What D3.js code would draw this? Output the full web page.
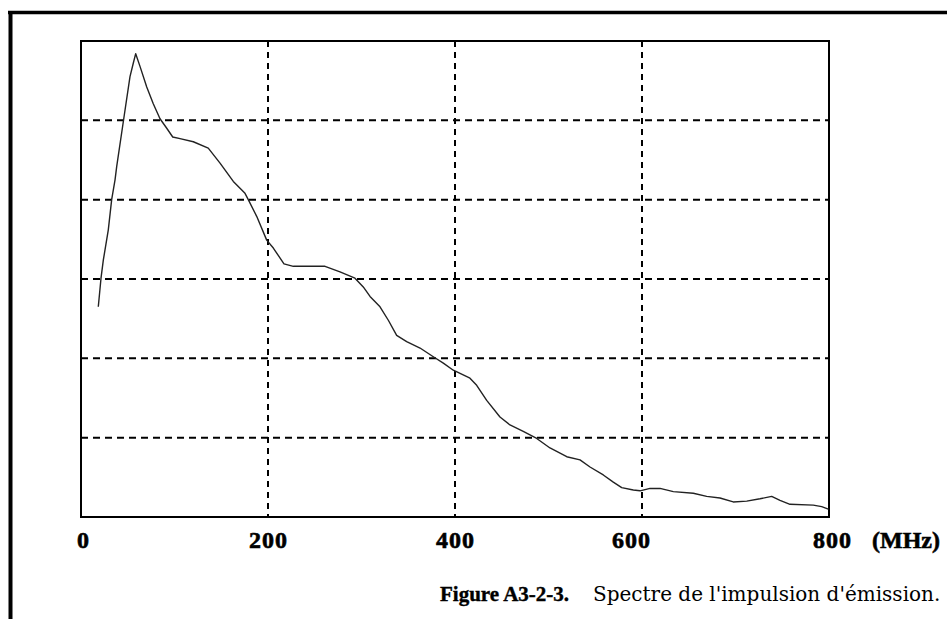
<!DOCTYPE html>
<html>
<head>
<meta charset="utf-8">
<script src="https://cdn.jsdelivr.net/npm/d3@7"></script>
<style>
  body { margin: 0; background: #fff; }
  svg { display: block; }
</style>
</head>
<body>
<svg id="chart" width="947" height="619"></svg>
<script>
// Emission pulse spectrum: frequency (MHz) and relative level (grid units x10)
const freqMHz = [18.5, 21.4, 23.9, 29.2, 32.8, 36.4, 38.2, 47.1, 52.4, 55.9,
  58.5, 63.1, 70.3, 77.3, 84.5, 91.7, 98.1, 105.9, 120.1, 136.1,
  148.7, 162.9, 175.4, 178.9, 187.9, 198.6, 205.7, 217.1, 227.1, 261.0,
  277.0, 293.0, 301.9, 309.1, 319.8, 328.7, 337.6, 348.3, 362.6, 376.8,
  387.5, 398.2, 416.0, 423.2, 433.9, 448.1, 458.8, 473.0, 487.4, 501.6,
  519.5, 533.7, 544.4, 558.6, 569.3, 578.3, 590.7, 597.9, 608.6, 619.3,
  633.5, 654.9, 669.2, 683.4, 697.6, 712.0, 726.2, 738.7, 747.6, 758.3,
  783.2, 792.2, 799.3];
const level = [26.5, 30.1, 32.4, 36.2, 40.0, 42.5, 44.2, 51.3, 55.5, 57.2,
  58.4, 56.8, 54.2, 52.1, 50.2, 49.0, 47.9, 47.7, 47.3, 46.5,
  44.6, 42.3, 40.8, 40.0, 37.9, 34.9, 33.9, 31.9, 31.6, 31.6,
  30.9, 30.1, 29.0, 27.8, 26.5, 24.8, 22.9, 22.1, 21.3, 20.2,
  19.4, 18.5, 17.5, 16.6, 14.7, 12.6, 11.6, 10.8, 9.9, 8.7,
  7.6, 7.2, 6.3, 5.3, 4.4, 3.7, 3.4, 3.3, 3.6, 3.6,
  3.2, 3.0, 2.6, 2.4, 1.9, 2.0, 2.3, 2.6, 2.1, 1.6,
  1.5, 1.3, 1.0];

const xTicks = [0, 200, 400, 600, 800];
const yGridLevels = [10, 20, 30, 40, 50];
const xDomain = [0, 800];
const yDomain = [0, 60];
const unitLabel = "(MHz)";
const captionTitle = "Figure A3-2-3.";
const captionText = "Spectre de l'impulsion d'émission.";

const svg = d3.select("#chart");
const plot = { left: 81, right: 829, top: 41, bottom: 517 };

const x = d3.scaleLinear().domain(xDomain).range([plot.left, plot.right]);
const y = d3.scaleLinear().domain(yDomain).range([plot.bottom, plot.top]);

// Page frame (heavy rule on the top and left)
svg.append("line")
  .attr("x1", 8).attr("x2", 947).attr("y1", 12.5).attr("y2", 12.5)
  .attr("stroke", "#000").attr("stroke-width", 3.5);
svg.append("line")
  .attr("x1", 10.5).attr("x2", 10.5).attr("y1", 11).attr("y2", 619)
  .attr("stroke", "#000").attr("stroke-width", 4);

// Dashed grid
svg.append("g")
  .selectAll("line")
  .data(yGridLevels)
  .join("line")
  .attr("x1", plot.left).attr("x2", plot.right)
  .attr("y1", d => y(d)).attr("y2", d => y(d))
  .attr("stroke", "#000").attr("stroke-width", 2)
  .attr("stroke-dasharray", "7,5");

svg.append("g")
  .selectAll("line")
  .data(xTicks.slice(1, -1))
  .join("line")
  .attr("x1", d => x(d)).attr("x2", d => x(d))
  .attr("y1", plot.top).attr("y2", plot.bottom)
  .attr("stroke", "#000").attr("stroke-width", 2)
  .attr("stroke-dasharray", "6,5");

// Plot border
svg.append("rect")
  .attr("x", plot.left).attr("y", plot.top)
  .attr("width", plot.right - plot.left).attr("height", plot.bottom - plot.top)
  .attr("fill", "none").attr("stroke", "#000").attr("stroke-width", 2);

// Spectrum curve
const pts = freqMHz.map((f, i) => [f, level[i]]);
svg.append("path")
  .datum(pts)
  .attr("fill", "none")
  .attr("stroke", "#222")
  .attr("stroke-width", 1.4)
  .attr("stroke-linejoin", "round")
  .attr("d", d3.line().x(d => x(d[0])).y(d => y(d[1])));

// Frequency axis labels
const labelShift = { 0: 2, 600: -11, 800: 3 };
const xAxis = d3.axisBottom(x).tickValues(xTicks).tickSize(0).tickPadding(0)
  .tickFormat(d3.format("d"));
const gx = svg.append("g")
  .attr("transform", `translate(0,${plot.bottom})`)
  .call(xAxis);
gx.select(".domain").remove();
gx.selectAll("text")
  .attr("dy", null)
  .attr("y", 30.5)
  .attr("dx", d => labelShift[d] || 0)
  .attr("fill", "#000")
  .attr("stroke", "#000")
  .attr("stroke-width", 0.6)
  .style("font-family", "'Liberation Serif', serif")
  .style("font-weight", "bold")
  .style("font-size", "24px")
  .style("letter-spacing", "1px");

svg.append("text")
  .attr("x", x(xDomain[1]) + 43)
  .attr("y", plot.bottom + 30.5)
  .attr("stroke", "#000")
  .attr("stroke-width", 0.6)
  .style("font-family", "'Liberation Serif', serif")
  .style("font-weight", "bold")
  .style("font-size", "24px")
  .text(unitLabel);

// Caption
const cap = svg.append("text")
  .attr("x", 440)
  .attr("y", 601)
  .attr("fill", "#000");
cap.append("tspan")
  .attr("stroke", "#000")
  .attr("stroke-width", 0.4)
  .style("font-family", "'Liberation Serif', serif")
  .style("font-weight", "bold")
  .style("font-size", "21px")
  .text(captionTitle);
cap.append("tspan")
  .attr("x", 593)
  .style("font-family", "'DejaVu Serif', serif")
  .style("font-size", "20px")
  .text(captionText);
</script>
</body>
</html>
